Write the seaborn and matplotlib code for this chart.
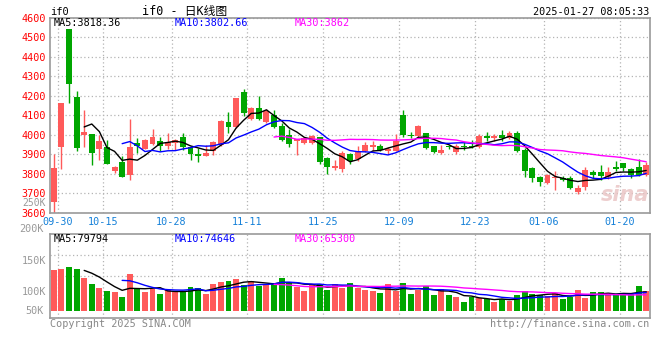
import numpy as np
import pandas as pd
import matplotlib
matplotlib.use("Agg")
import matplotlib.pyplot as plt
import seaborn as sns

# ---------------- DATA ----------------
opens = [3658, 3937, 4540, 4193, 4000, 4004, 3929, 3939, 3816, 3862,
         3796, 3958, 3929, 3951, 3970, 3944, 3956, 3988, 3936, 3902,
         3893, 3915, 3948, 4065, 4040, 4218, 4080, 4137, 4068, 4099,
         4045, 3997, 3966, 3959, 3959, 3987, 3881, 3832, 3825, 3902,
         3876, 3915, 3939, 3941, 3919, 3919, 4101, 3999, 3995, 4009,
         3942, 3905, 3941, 3910, 3942, 3944, 3939, 3994, 3985, 3999,
         3985, 4009, 3922, 3830, 3784, 3755, 3779, 3777, 3777, 3709,
         3735, 3811, 3808, 3786, 3835, 3854, 3825, 3835, 3796]
closes = [3830, 4162, 4261, 3932, 4016, 3905, 3968, 3852, 3835, 3786,
          3937, 3941, 3973, 3988, 3941, 3961, 3975, 3939, 3900, 3891,
          3907, 3963, 4072, 4041, 4188, 4109, 4137, 4082, 4123, 4041,
          3975, 3954, 3978, 3985, 3994, 3862, 3833, 3840, 3907, 3868,
          3915, 3948, 3948, 3922, 3927, 3970, 4000, 3994, 4046, 3932,
          3913, 3922, 3936, 3944, 3937, 3936, 3994, 3983, 3994, 3983,
          4009, 3919, 3816, 3781, 3760, 3792, 3786, 3770, 3729, 3728,
          3820, 3794, 3789, 3810, 3823, 3832, 3792, 3796, 3845]
highs = [3902, 4165, 4540, 4225, 4128, 4004, 3997, 3973, 3840, 3891,
         4079, 3982, 3977, 4029, 3988, 4009, 3980, 4009, 3940, 3932,
         3946, 3966, 4075, 4116, 4190, 4234, 4140, 4200, 4130, 4126,
         4058, 4029, 3980, 3990, 3998, 3990, 3885, 3871, 3915, 3905,
         3941, 3961, 3966, 3953, 3939, 4004, 4128, 4016, 4051, 4009,
         3942, 3950, 3950, 3952, 3961, 3975, 4004, 4016, 4004, 4024,
         4021, 4021, 3930, 3837, 3790, 3800, 3813, 3787, 3787, 3743,
         3837, 3820, 3847, 3837, 3866, 3856, 3830, 3874, 3862]
lows = [3598, 3825, 4162, 3919, 3939, 3847, 3873, 3852, 3803, 3782,
        3770, 3908, 3925, 3948, 3915, 3925, 3922, 3922, 3873, 3862,
        3890, 3898, 3945, 4011, 4036, 4096, 4075, 4075, 4060, 4034,
        3970, 3936, 3898, 3955, 3955, 3850, 3799, 3820, 3811, 3850,
        3867, 3912, 3919, 3915, 3902, 3915, 3990, 3985, 3990, 3925,
        3905, 3900, 3925, 3902, 3920, 3930, 3935, 3968, 3970, 3970,
        3980, 3910, 3786, 3757, 3740, 3750, 3718, 3765, 3723, 3697,
        3719, 3780, 3769, 3772, 3816, 3816, 3777, 3791, 3789]
volumes = [133900, 136000, 139200, 136000, 121000, 111300, 104800, 100000, 98400, 90900,
           127400, 103200, 98400, 102700, 95200, 101100, 98900, 97800, 106500, 104800,
           95200, 111300, 114500, 116100, 119400, 109700, 116100, 108600, 110200, 112900,
           121000, 114500, 106500, 100000, 111300, 110800, 101600, 111300, 105400, 112900,
           105400, 101600, 100000, 96800, 111300, 99500, 112900, 95200, 101100, 108100,
           93500, 103200, 93500, 90300, 82300, 89800, 89200, 87100, 82300, 87100,
           84400, 93500, 100000, 95200, 93500, 91400, 96800, 87100, 90300, 101600,
           88700, 98400, 98400, 95200, 95200, 93500, 96800, 108100, 100000]

date_labels = ["09-30", "10-15", "10-28", "11-11", "11-25", "12-09", "12-23", "01-06", "01-20"]
date_index = [1, 7, 16, 26, 36, 46, 56, 65, 75]
price_ticks = [3600, 3700, 3800, 3900, 4000, 4100, 4200, 4300, 4400, 4500, 4600]
vol_ticks = [100000, 150000]
ma_windows = [5, 10, 30]
ma_price_text = ["3818.36", "3802.66", "3862"]
ma_vol_text = ["79794", "74646", "65300"]
# -------------------------------------------------------------------------

RED = "#ff5a5a"
GREEN = "#00a600"
MA_COLORS = ["#000000", "#0000ff", "#ff00ff"]
GRID = "#b4b4b4"
FRAME = "#9a9a9a"
W, H = 660, 360

sns.set_theme(style="white")
plt.rcParams["font.family"] = ["DejaVu Sans Mono", "Noto Sans CJK SC"]


def fx(px):
    return px / W


def fy(py):
    return 1 - py / H


df = pd.DataFrame({"open": opens, "close": closes, "high": highs,
                   "low": lows, "vol": volumes})
df["i"] = np.arange(len(df))
df["up"] = df["close"] >= df["open"]
colors = np.where(df["up"], RED, GREEN)

fig = plt.figure(figsize=(W / 100, H / 100), dpi=100)
fig.patch.set_facecolor("white")
ax = fig.add_axes([fx(50), fy(213), 600 / W, 195.5 / H])
axv = fig.add_axes([fx(50), fy(318), 600 / W, 84 / H])

grid_x = [d - 0.5 for d in date_index]

# ---------------- PRICE PANEL ----------------
ax.set_xlim(-0.5, len(df) - 0.5)
ax.set_ylim(price_ticks[0], price_ticks[-1])
for y in price_ticks:
    ax.axhline(y, color=GRID, lw=0.9, ls=(0, (1, 2)), zorder=0)
for x in grid_x:
    ax.axvline(x, color=GRID, lw=0.9, ls=(0, (1, 2)), zorder=0)

ax.vlines(df["i"], df["low"], df["high"], colors=colors, lw=1, zorder=2)
body_lo = df[["open", "close"]].min(axis=1)
body_h = (df["close"] - df["open"]).abs().clip(lower=3)
ax.bar(df["i"], body_h, bottom=body_lo, width=0.78, color=colors,
       linewidth=0, zorder=3)

for w, c in zip(ma_windows, MA_COLORS):
    ma = df["close"].rolling(w).mean()
    sns.lineplot(x=df["i"], y=ma, ax=ax, color=c, lw=1, legend=False, zorder=4)

ax.set_yticks(price_ticks)
ax.set_yticklabels([str(p) for p in price_ticks])
ax.tick_params(axis="y", length=0, pad=3, labelcolor="#ff0000", labelsize=7.3)
ax.set_xticks(grid_x)
ax.set_xticklabels(date_labels)
ax.tick_params(axis="x", length=0, pad=3, labelcolor="#1580d8", labelsize=7.3)
ax.set_xlabel("")
ax.set_ylabel("")
for s in ax.spines.values():
    s.set_color(FRAME)
    s.set_linewidth(1.2)

# faint sina watermark
ax.text(0.958, 0.09, "sina", transform=ax.transAxes, ha="center", va="center",
        fontsize=15, fontweight="bold", style="italic", color="#e9c2c2",
        family="DejaVu Sans", alpha=0.8, zorder=1)

# ---------------- VOLUME PANEL ----------------
# sina scale: 100K sits at 57px below the frame top, 31px per 50K
px_per_unit = 31 / 50000
vol_hi = 100000 + 57 / px_per_unit
vol_lo = 100000 - 27 / px_per_unit
vol_floor = vol_lo + 7 / px_per_unit  # bars start 7px above the frame bottom

axv.set_xlim(-0.5, len(df) - 0.5)
axv.set_ylim(vol_lo, vol_hi)
for x in grid_x:
    axv.axvline(x, color=GRID, lw=0.9, ls=(0, (1, 2)), zorder=0)
for f in (0.5, 0.75):
    axv.plot([0, 1], [f, f], transform=axv.transAxes, color=GRID, lw=0.9,
             ls=(0, (1, 2)), zorder=0)

axv.bar(df["i"], df["vol"] - vol_floor, bottom=vol_floor, width=0.78,
        color=colors, linewidth=0, zorder=2)
for w, c in zip(ma_windows, MA_COLORS):
    ma = df["vol"].rolling(w).mean()
    sns.lineplot(x=df["i"], y=ma, ax=axv, color=c, lw=1, legend=False, zorder=4)

axv.set_yticks(vol_ticks)
axv.set_yticklabels([f"{v // 1000}K" for v in vol_ticks])
axv.tick_params(axis="y", length=0, pad=3, labelcolor="#999999", labelsize=7.3)
axv.set_xticks(grid_x)
axv.set_xticklabels([])
axv.tick_params(axis="x", length=0)
axv.set_xlabel("")
axv.set_ylabel("")
for s in axv.spines.values():
    s.set_color(FRAME)
    s.set_linewidth(1.2)

# upper volume labels sit above the panel frame, as on sina's chart
axv.text(-0.01, 200000, "200K", transform=axv.get_yaxis_transform(),
         ha="right", va="center", color="#999999", fontsize=7.3, clip_on=False)
fig.text(fx(46), fy(203), "250K", ha="right", va="center", color="#999999",
         fontsize=7.0)
axv.text(-0.01, 0.08, "50K", transform=axv.transAxes, ha="right", va="center",
         color="#999999", fontsize=7.3)

# ---------------- HEADER / FOOTER TEXT ----------------
fig.text(fx(50), fy(12), "if0", ha="left", va="center", fontsize=7.5, color="black")
fig.text(fx(185), fy(11), "if0 - 日K线图", ha="center", va="center", fontsize=8.5,
         color="black")
fig.text(fx(649), fy(12), "2025-01-27 08:05:33", ha="right", va="center",
         fontsize=7.3, color="black")

label_x = [54, 175, 295]
for lx, w, c, t in zip(label_x, ma_windows, MA_COLORS, ma_price_text):
    fig.text(fx(lx), fy(23), f"MA{w}:{t}", ha="left", va="center",
             fontsize=7.3, color=c)
for lx, w, c, t in zip(label_x, ma_windows, MA_COLORS, ma_vol_text):
    fig.text(fx(lx), fy(238.5), f"MA{w}:{t}", ha="left", va="center",
             fontsize=7.3, color=c)

fig.text(fx(50), fy(324), "Copyright 2025 SINA.COM", ha="left", va="center",
         fontsize=7.3, color="#888888")
fig.text(fx(649), fy(324), "http://finance.sina.com.cn", ha="right", va="center",
         fontsize=7.3, color="#888888")

fig.savefig("out.png", dpi=100, facecolor="white")
